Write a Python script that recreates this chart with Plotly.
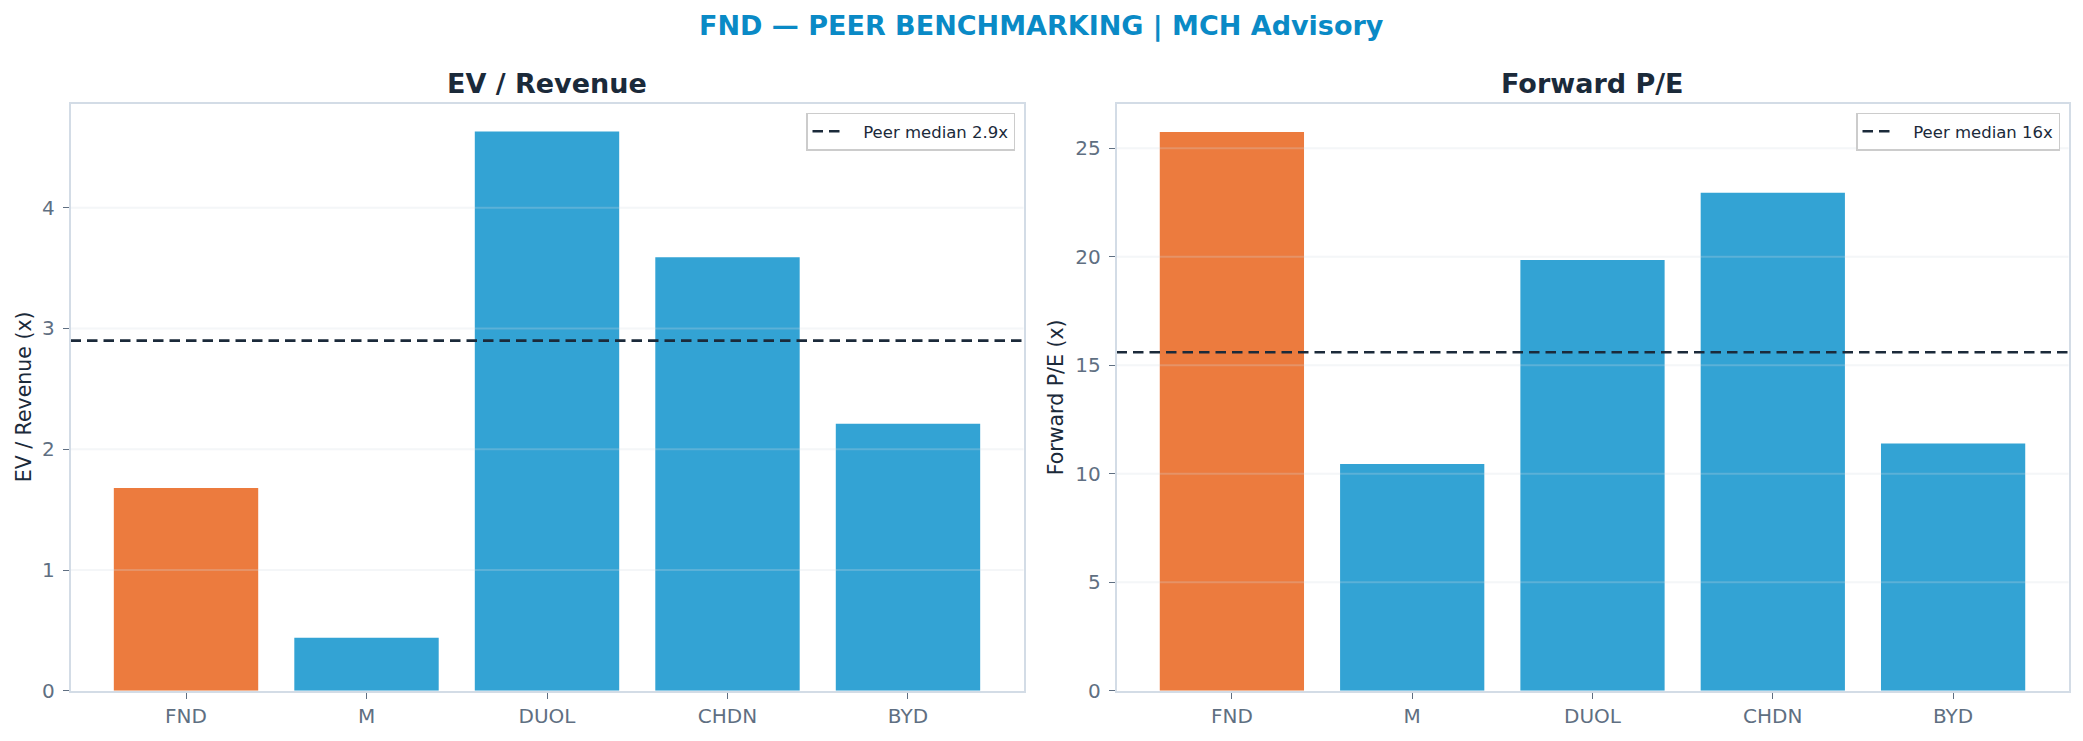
import plotly.graph_objects as go

# ---- data ----
tickers = ["FND", "M", "DUOL", "CHDN", "BYD"]
ev_revenue = [1.68, 0.44, 4.63, 3.59, 2.21]
forward_pe = [25.75, 10.45, 19.85, 22.95, 11.40]
ev_median = 2.9
pe_median = 15.6
ev_median_label = "Peer median 2.9x"
pe_median_label = "Peer median 16x"
subject = "FND"
ev_ticks = [0, 1, 2, 3, 4]
pe_ticks = [0, 5, 10, 15, 20, 25]

ORANGE = "#EC7B3E"
BLUE = "#33A3D4"
DARK = "#1B2A3A"
TICK = "#5F6F82"
FRAME = "#D3DCE6"
GRID = "rgba(212,218,226,0.25)"

W, H = 2083, 741
xpos = list(range(len(tickers)))
colors = [ORANGE if t == subject else BLUE for t in tickers]
xr = [-0.64, len(tickers) - 1 + 0.64]
PAD = "\u00a0\u00a0\u00a0"

fig = go.Figure()

fig.add_trace(go.Bar(x=xpos, y=ev_revenue, marker_color=colors, marker_line_width=0,
                     width=0.8, showlegend=False, xaxis="x", yaxis="y"))
fig.add_trace(go.Scatter(x=xr, y=[ev_median, ev_median], mode="lines",
                         line=dict(color=DARK, width=2.7, dash="10.5px,6px"),
                         name=PAD + ev_median_label, legend="legend", xaxis="x", yaxis="y"))
fig.add_trace(go.Bar(x=xpos, y=forward_pe, marker_color=colors, marker_line_width=0,
                     width=0.8, showlegend=False, xaxis="x2", yaxis="y2"))
fig.add_trace(go.Scatter(x=xr, y=[pe_median, pe_median], mode="lines",
                         line=dict(color=DARK, width=2.7, dash="10.5px,6px"),
                         name=PAD + pe_median_label, legend="legend2", xaxis="x2", yaxis="y2"))

y0 = 1 - 690.8 / H
y1 = 1 - 103.8 / H
dom1 = [70.5 / W, 1023.5 / W]
dom2 = [1116.5 / W, 2068.5 / W]

common_x = dict(range=xr, tickvals=xpos, ticktext=tickers, showgrid=False, zeroline=False,
                showline=True, linecolor=FRAME, linewidth=1.5, mirror=True,
                ticks="outside", ticklen=6, tickcolor=TICK, tickwidth=1,
                ticklabelstandoff=0, automargin=False,
                tickfont=dict(size=20, color=TICK, family="DejaVu Sans"))
common_y = dict(showgrid=False, zeroline=False,
                showline=True, linecolor=FRAME, linewidth=1.5, mirror=True,
                ticks="outside", ticklen=6, tickcolor=TICK, tickwidth=1,
                ticklabelstandoff=4, automargin=False,
                tickfont=dict(size=20, color=TICK, family="DejaVu Sans"))

legend_common = dict(xanchor="right", yanchor="top", bgcolor="white",
                     bordercolor="#CCCCCC", borderwidth=1.5,
                     font=dict(size=16.5, color=DARK, family="DejaVu Sans"), itemwidth=30)

fig.update_layout(
    width=W, height=H,
    margin=dict(l=0, r=0, t=0, b=0, autoexpand=False),
    paper_bgcolor="white", plot_bgcolor="white",
    font=dict(family="DejaVu Sans", color=DARK),
    xaxis=dict(domain=dom1, anchor="y", **common_x),
    yaxis=dict(domain=[y0, y1], anchor="x", range=[0, 4.86], tickvals=ev_ticks, **common_y),
    xaxis2=dict(domain=dom2, anchor="y2", **common_x),
    yaxis2=dict(domain=[y0, y1], anchor="x2", range=[0, 27.05], tickvals=pe_ticks, **common_y),
    legend=dict(x=1015 / W, y=1 - 112.5 / H, **legend_common),
    legend2=dict(x=2060 / W, y=1 - 112.5 / H, **legend_common),
    bargap=0.2,
)

shapes = []
for v in ev_ticks[1:]:
    shapes.append(dict(type="line", xref="x domain", yref="y", x0=0, x1=1, y0=v, y1=v,
                       line=dict(color=GRID, width=2), layer="above"))
for v in pe_ticks[1:]:
    shapes.append(dict(type="line", xref="x2 domain", yref="y2", x0=0, x1=1, y0=v, y1=v,
                       line=dict(color=GRID, width=2), layer="above"))
fig.update_layout(shapes=shapes)

annotations = [
    dict(text="<b>FND — PEER BENCHMARKING | MCH Advisory</b>", x=0.5, y=1 - 26 / H,
         xref="paper", yref="paper", showarrow=False, xanchor="center", yanchor="middle",
         font=dict(size=27, color="#0A8AC6")),
    dict(text="<b>EV / Revenue</b>", x=(dom1[0] + dom1[1]) / 2, y=1 - 84 / H,
         xref="paper", yref="paper", showarrow=False, xanchor="center", yanchor="middle",
         font=dict(size=27, color=DARK)),
    dict(text="<b>Forward P/E</b>", x=(dom2[0] + dom2[1]) / 2, y=1 - 84 / H,
         xref="paper", yref="paper", showarrow=False, xanchor="center", yanchor="middle",
         font=dict(size=27, color=DARK)),
    dict(text="EV / Revenue (x)", x=24 / W, y=(y0 + y1) / 2, textangle=-90,
         xref="paper", yref="paper", showarrow=False, xanchor="center", yanchor="middle",
         font=dict(size=20.5, color=DARK)),
    dict(text="Forward P/E (x)", x=1056 / W, y=(y0 + y1) / 2, textangle=-90,
         xref="paper", yref="paper", showarrow=False, xanchor="center", yanchor="middle",
         font=dict(size=20.5, color=DARK)),
]
fig.update_layout(annotations=annotations)

fig.write_html("out.html")
